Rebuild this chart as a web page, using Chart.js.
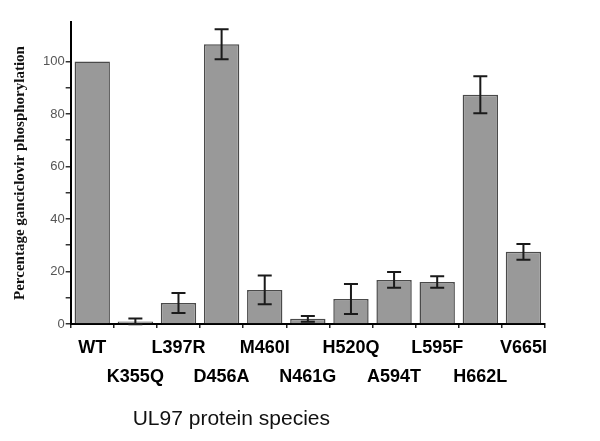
<!DOCTYPE html>
<html>
<head>
<meta charset="utf-8">
<script src="https://cdn.jsdelivr.net/npm/chart.js@4.4.1/dist/chart.umd.min.js"></script>
<style>
html,body{margin:0;padding:0;background:#fff;}
#wrap{width:600px;height:441px;position:relative;}
</style>
</head>
<body>
<div id="wrap"><canvas id="c" width="600" height="441"></canvas></div>
<script>
const categories = ['WT','K355Q','L397R','D456A','M460I','N461G','H520Q','A594T','L595F','H662L','V665I'];
const values = [100, 1, 8, 106.5, 13, 2, 9.5, 16.8, 16, 87.3, 27.5];
const errors = [0, 1.1, 3.8, 5.7, 5.5, 1.1, 5.7, 3, 2.2, 7, 3];
const yTickLabels = [0, 20, 40, 60, 80, 100];
const yTitle = 'Percentage ganciclovir phosphorylation';
const xTitle = 'UL97 protein species';

const labels = categories.map((c, i) => i % 2 === 0 ? [c, ''] : ['', c]);

const errorBars = {
  id: 'errorBars',
  afterDatasetsDraw(chart) {
    const ctx = chart.ctx;
    const meta = chart.getDatasetMeta(0);
    const y = chart.scales.y;
    ctx.save();
    ctx.strokeStyle = '#1a1a1a';
    ctx.lineWidth = 2;
    meta.data.forEach((bar, i) => {
      const e = errors[i];
      if (!e) return;
      const top = y.getPixelForValue(values[i] + e);
      const bot = y.getPixelForValue(values[i] - e);
      const x = bar.x;
      const cap = 7;
      ctx.beginPath();
      ctx.moveTo(x, top); ctx.lineTo(x, bot);
      ctx.moveTo(x - cap, top); ctx.lineTo(x + cap, top);
      ctx.moveTo(x - cap, bot); ctx.lineTo(x + cap, bot);
      ctx.stroke();
    });
    ctx.restore();
  }
};

const xTitlePlugin = {
  id: 'xTitlePlugin',
  afterDraw(chart) {
    const ctx = chart.ctx;
    ctx.save();
    ctx.fillStyle = '#111';
    ctx.font = '21px "Liberation Sans", Arial, sans-serif';
    ctx.textAlign = 'left';
    ctx.textBaseline = 'middle';
    ctx.fillText(xTitle, chart.chartArea.left + 62, 419);
    ctx.restore();
  }
};

new Chart(document.getElementById('c'), {
  type: 'bar',
  data: {
    labels: labels,
    datasets: [{
      data: values,
      backgroundColor: '#999999',
      borderColor: '#4a4a4a',
      borderWidth: 1.5,
      barPercentage: 0.82,
      categoryPercentage: 1.0
    }]
  },
  options: {
    responsive: false,
    animation: false,
    layout: { padding: { left: 8, right: 55, top: 22, bottom: 43 } },
    plugins: { legend: { display: false }, tooltip: { enabled: false } },
    scales: {
      x: {
        offset: true,
        grid: { offset: true, drawOnChartArea: false, tickLength: 4, color: '#222', lineWidth: 1.5 },
        border: { display: true, color: '#000', width: 2 },
        ticks: {
          autoSkip: false, maxRotation: 0, minRotation: 0,
          color: '#000', padding: 6,
          font: { family: '"Liberation Sans", Arial, sans-serif', size: 18, weight: 'bold', lineHeight: 1.61 }
        }
      },
      y: {
        min: 0, max: 115,
        afterBuildTicks(scale) { scale.ticks = scale.ticks.filter(t => t.value % 10 === 0); },
        grid: { drawOnChartArea: false, tickLength: 5, color: '#333', lineWidth: 1.5 },
        border: { display: true, color: '#000', width: 2 },
        ticks: {
          stepSize: 10, padding: 1, color: '#555',
          font: { family: '"Liberation Sans", Arial, sans-serif', size: 13 },
          callback: (v) => yTickLabels.includes(v) ? String(v) : ''
        },
        title: {
          display: true, text: yTitle, color: '#111',
          padding: { top: 3, bottom: 13 },
          font: { family: '"Liberation Serif", "Times New Roman", serif', size: 15, weight: 'bold' }
        }
      }
    }
  },
  plugins: [errorBars, xTitlePlugin]
});
</script>
</body>
</html>
